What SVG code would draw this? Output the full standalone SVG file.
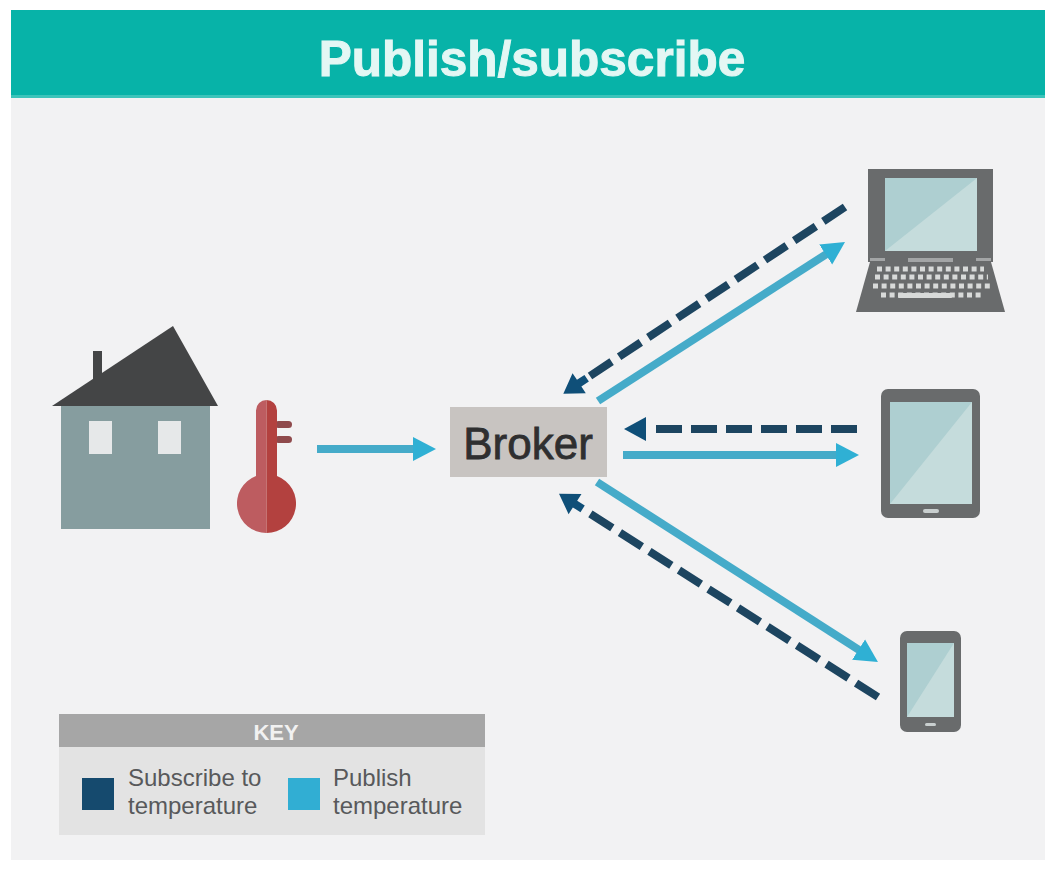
<svg xmlns="http://www.w3.org/2000/svg" width="1045" height="872" viewBox="0 0 1045 872">
<style>
text{font-family:"Liberation Sans",Arial,sans-serif}
.pub{fill:none;stroke:#45abc9;stroke-width:8}
.sub{fill:none;stroke:#1d4560;stroke-width:8;stroke-dasharray:26 9}
.body{fill:#696b6c}
.scr{fill:#c5dcdc}
.scr2{fill:#aecfd1}
.key{font-size:24px;fill:#58595b}
</style>
<defs>
<marker id="ap" markerUnits="userSpaceOnUse" markerWidth="24" markerHeight="26" refX="5" refY="13" orient="auto"><path d="M0 1L23 13L0 25Z" fill="#2fb0d4"/></marker>
<marker id="as" markerUnits="userSpaceOnUse" markerWidth="34" markerHeight="26" refX="0" refY="13" orient="auto"><path d="M10 1L32 13L10 25Z" fill="#0f4f78"/></marker>
<marker id="asd" markerUnits="userSpaceOnUse" markerWidth="34" markerHeight="26" refX="0" refY="13" orient="auto"><path d="M4 9H13V1L32 13L13 25V17H4Z" fill="#0f4f78"/></marker>
</defs>
<rect width="1045" height="872" fill="#fff"/>
<rect x="11" y="10" width="1034" height="850" fill="#f2f2f3"/>
<g id="title"><rect x="11" y="10" width="1034" height="87" fill="#07b3a8"/><rect x="11" y="95" width="1034" height="3" fill="#3cc4ba"/>
<text x="532" y="76" font-size="49.5" font-weight="700" fill="#e3f7f4" text-anchor="middle" stroke="#e3f7f4" stroke-width="1">Publish/subscribe</text></g>
<g id="connectors">
<path class="pub" d="M317 449H418" marker-end="url(#ap)"/>
<path class="pub" d="M598 401L829.9 251.8" marker-end="url(#ap)"/>
<path class="sub" d="M845 207L590 376" marker-end="url(#asd)"/>
<path class="sub" d="M857 429H656" marker-end="url(#as)"/>
<path class="pub" d="M623 455H841" marker-end="url(#ap)"/>
<path class="pub" d="M597 482L862.8 652.3" marker-end="url(#ap)"/>
<path class="sub" d="M878 697L586 511" marker-end="url(#asd)"/>
</g>
<g id="house">
<rect x="93" y="351" width="9" height="30" fill="#444546"/>
<path d="M52 406L173 326L218 406Z" fill="#444546"/>
<rect x="61" y="406" width="149" height="123" fill="#869d9f"/>
<rect x="89" y="421" width="23" height="33" fill="#e6e8e9"/><rect x="158" y="421" width="23" height="33" fill="#e6e8e9"/>
</g>
<g id="thermometer">
<rect x="275" y="421" width="17" height="7" rx="3.5" fill="#8f4a4c"/><rect x="275" y="436" width="17" height="7" rx="3.5" fill="#8f4a4c"/>
<path d="M266.5 400A10.5 10.5 0 0 0 256 410.5V475.92A29.5 29.5 0 0 0 266.5 533Z" fill="#bd5c60"/>
<path d="M266.5 400A10.5 10.5 0 0 1 277 410.5V475.92A29.5 29.5 0 0 1 266.5 533Z" fill="#b3413f"/>
</g>
<g id="broker"><rect x="450" y="407" width="157" height="70" fill="#c8c4c1"/>
<text x="528" y="459" font-size="44" font-weight="400" fill="#2f2f30" text-anchor="middle" stroke="#2f2f30" stroke-width=".8">Broker</text></g>
<g id="laptop">
<path class="body" d="M868 169H993V262H868Z"/>
<path class="scr" d="M885 178H977V251H885Z"/><path class="scr2" d="M885 178H977L885 251Z"/>
<path class="body" d="M870 262H991L1005 312H856Z"/>
<rect x="908" y="258" width="45" height="4" fill="#a3a5a6"/><rect x="870" y="258" width="15" height="3" fill="#a3a5a6"/><rect x="976" y="258" width="15" height="3" fill="#a3a5a6"/>
<path d="M877 269H984M875 277H988M873 286H990M881 295H982" stroke="#d8dad9" stroke-width="5" stroke-dasharray="5 3.6" fill="none"/>
<rect x="898" y="293" width="54" height="5" rx="1" fill="#d8dad9"/>
</g>
<g id="tablet">
<rect class="body" x="881" y="389" width="99" height="129" rx="7"/>
<rect class="scr" x="890" y="402" width="82" height="102"/><path class="scr2" d="M890 402H972L890 504Z"/>
<rect x="923" y="509" width="16" height="4" rx="2" fill="#c9cfcf"/>
</g>
<g id="phone">
<rect class="body" x="900" y="631" width="61" height="101" rx="7"/>
<rect class="scr" x="907" y="643" width="47" height="74"/><path class="scr2" d="M907 643H954L907 717Z"/>
<rect x="925" y="723" width="11" height="3" rx="1.5" fill="#c9cfcf"/>
</g>
<g id="key">
<rect x="59" y="714" width="426" height="121" fill="#e3e3e3"/>
<rect x="59" y="714" width="426" height="33" fill="#a6a6a6"/>
<text x="276" y="740" font-size="22" font-weight="700" fill="#f1f1f1" text-anchor="middle">KEY</text>
<rect x="82" y="778" width="32" height="32" fill="#154a6e"/>
<rect x="288" y="778" width="32" height="32" fill="#31aed3"/>
<text class="key" x="128" y="786">Subscribe to</text><text class="key" x="128" y="814">temperature</text>
<text class="key" x="333" y="786">Publish</text><text class="key" x="333" y="814">temperature</text>
</g>
</svg>
